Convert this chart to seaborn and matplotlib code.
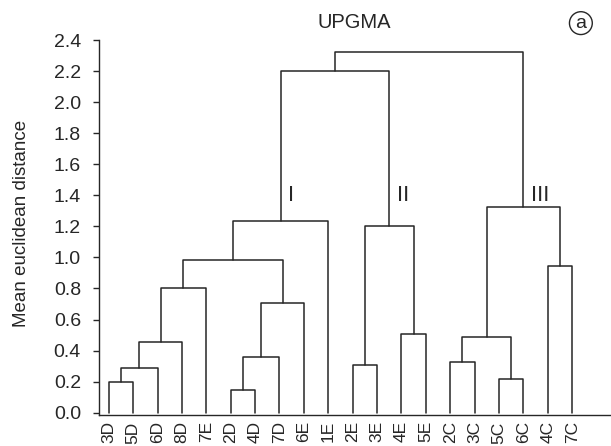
import numpy as np
import pandas as pd
import matplotlib
matplotlib.use("Agg")
import matplotlib.pyplot as plt
import seaborn as sns

# ---- data ----
leaves = ["3D", "5D", "6D", "8D", "7E", "2D", "4D", "7D", "6E", "1E",
          "2E", "3E", "4E", "5E", "2C", "3C", "5C", "6C", "4C", "7C"]
# merges (scipy-like ids: leaves 0..19, merges 20..)
merge_left = [0, 20, 21, 22, 5, 24, 25, 23, 27, 10, 12, 29, 14, 16, 32, 18, 34, 28, 37]
merge_right = [1, 2, 3, 4, 6, 7, 8, 26, 9, 11, 13, 30, 15, 17, 33, 19, 35, 31, 36]
merge_height = [0.20, 0.29, 0.453, 0.80, 0.145, 0.36, 0.705, 0.98, 1.235,
                0.307, 0.506, 1.20, 0.325, 0.217, 0.49, 0.944, 1.326, 2.20, 2.325]
cluster_names = ["I", "II", "III"]
cluster_nodes = [28, 31, 36]
y_ticks = [0.0, 0.2, 0.4, 0.6, 0.8, 1.0, 1.2, 1.4, 1.6, 1.8, 2.0, 2.2, 2.4]

# ---- build dendrogram segments ----
n = len(leaves)
pos = list(range(n))
hgt = [0.0] * n
rows = []
for k, (a, b, h) in enumerate(zip(merge_left, merge_right, merge_height)):
    xa, xb = pos[a], pos[b]
    pts = [(xa, hgt[a]), (xa, h), (xb, h), (xb, hgt[b])]
    for o, (x, y) in enumerate(pts):
        rows.append({"link": k, "order": o, "x": x, "y": y})
    pos.append((xa + xb) / 2.0)
    hgt.append(h)
df = pd.DataFrame(rows)

sns.set_style("ticks")
plt.rcParams["font.family"] = ["Liberation Sans", "DejaVu Sans"]
ink = "#262626"

fig = plt.figure(figsize=(6.11, 4.46), dpi=100)
ax = fig.add_axes([99 / 611, 31 / 446, 511 / 611, 375 / 446])

sns.lineplot(data=df, x="x", y="y", units="link", estimator=None, sort=False,
             color=ink, linewidth=1.1, ax=ax, legend=False)

ax.set_xlim(-0.4, 20.55)
ax.set_ylim(-0.015, 2.4)
ax.set_xticks(range(n))
ax.set_xticklabels(leaves, rotation=90, fontsize=12.5, color=ink)
ax.tick_params(axis="x", length=0, pad=4.5)
ax.set_yticks(y_ticks)
ax.set_yticklabels([f"{v:.1f}" for v in y_ticks], fontsize=14, color=ink)
ax.tick_params(axis="y", direction="out", length=4, width=1, color=ink, pad=9)
ax.set_xlabel("")
ax.set_ylabel("Mean euclidean distance", fontsize=13.5, color=ink, va="center")
ax.yaxis.set_label_coords(-0.151, 0.51)
for s in ["top", "right"]:
    ax.spines[s].set_visible(False)
for s in ["left", "bottom"]:
    ax.spines[s].set_color(ink)
    ax.spines[s].set_linewidth(1.0)

ax.set_title("UPGMA", fontsize=14.5, color=ink, pad=9)

for name, node in zip(cluster_names, cluster_nodes):
    ax.text(pos[node] + 0.32, 1.40, name, ha="left", va="center",
            fontsize=16, color=ink)

ax.text(0.943, 1.045, "a", transform=ax.transAxes, ha="center", va="center",
        fontsize=14, color=ink,
        bbox=dict(boxstyle="circle,pad=0.15", fc="white", ec=ink, lw=1.0))

fig.savefig("out.png", dpi=100)
